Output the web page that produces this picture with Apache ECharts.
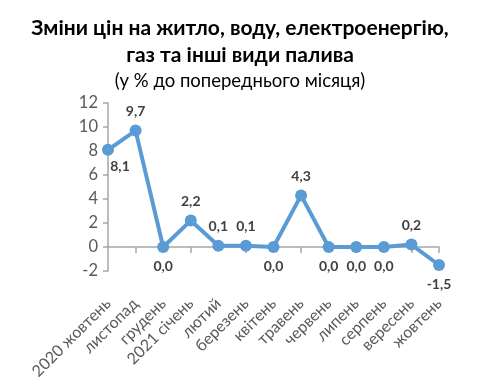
<!DOCTYPE html>
<html><head><meta charset="utf-8">
<script src="https://cdn.jsdelivr.net/npm/echarts@6/dist/echarts.min.js"></script>
<style>html,body{margin:0;padding:0;background:#fff}#c{width:480px;height:384px}</style>
</head><body><div id="c"></div>
<script>
const categories = ['2020 жовтень','листопад','грудень','2021 січень','лютий','березень','квітень','травень','червень','липень','серпень','вересень','жовтень'];
const values = [8.1, 9.7, 0.0, 2.2, 0.1, 0.1, 0.0, 4.3, 0.0, 0.0, 0.0, 0.2, -1.5];
const labelPos = ['bottom','top','bottom','top','top','top','bottom','top','bottom','bottom','bottom','top','bottom'];
const yTicks = [-2, 0, 2, 4, 6, 8, 10, 12];

const chart = echarts.init(document.getElementById('c'));
const font = 'Lato, "Open Sans", sans-serif';
chart.setOption({
  animation: false,
  title: [
    {text: 'Зміни цін на житло, воду, електроенергію,\nгаз та інші види палива', left: 'center', top: 10,
     textStyle: {fontFamily: font, fontSize: 21, fontWeight: 'bold', color: '#000', lineHeight: 27}},
    {text: '(у % до попереднього місяця)', left: 'center', top: 67,
     textStyle: {fontFamily: font, fontSize: 18.5, fontWeight: 'normal', color: '#000'}}
  ],
  grid: {left: 108, right: 41, top: 103, bottom: 113},
  xAxis: {
    type: 'category', data: categories, boundaryGap: false,
    axisLine: {onZero: true, lineStyle: {color: '#A6A6A6', width: 1.5}},
    axisTick: {show: true, length: 6, lineStyle: {color: '#A6A6A6', width: 1.5},
      interval: (i) => i % 2 === 1 || i === categories.length - 1},
    axisLabel: {interval: 0, rotate: 45, fontFamily: font, fontSize: 16, color: '#595959', margin: 30}
  },
  yAxis: {
    type: 'value', min: yTicks[0], max: yTicks[yTicks.length - 1], interval: 2,
    axisLine: {show: true, lineStyle: {color: '#A6A6A6', width: 1.5}},
    axisTick: {show: true, length: 5, lineStyle: {color: '#A6A6A6', width: 1.5}},
    splitLine: {show: false},
    axisLabel: {fontFamily: font, fontSize: 16.5, color: '#595959', margin: 10}
  },
  series: [{
    type: 'line',
    data: values.map((v, i) => ({value: v, label: i === 0 ? {position: 'bottom', offset: [12, -2]} : {position: labelPos[i]}})),
    symbol: 'circle', symbolSize: 12,
    lineStyle: {color: '#5B9BD5', width: 4},
    itemStyle: {color: '#5B9BD5'},
    label: {show: true, fontFamily: font, fontSize: 14, fontWeight: 'bold', color: '#404040', distance: 6,
      formatter: (p) => p.value.toFixed(1).replace('.', ',')}
  }]
});
</script></body></html>
